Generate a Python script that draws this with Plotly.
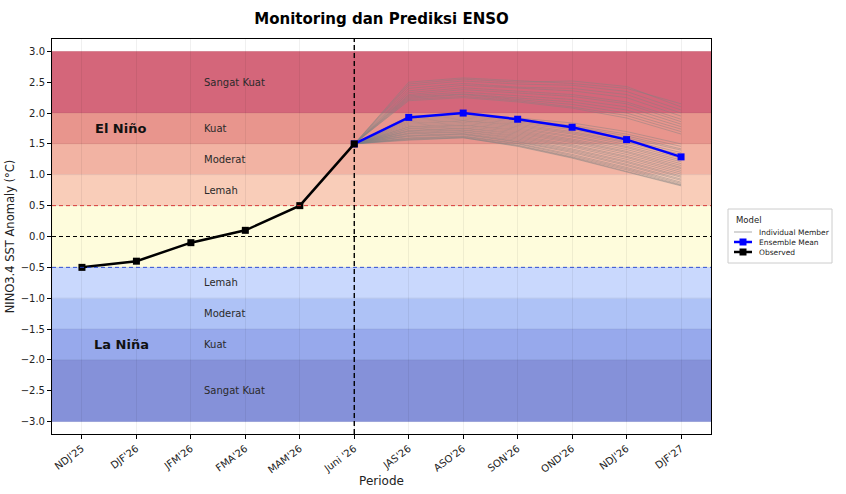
import plotly.graph_objects as go

periods = ["NDJ'25", "DJF'26", "JFM'26", "FMA'26", "MAM'26", "Juni '26",
           "JAS'26", "ASO'26", "SON'26", "OND'26", "NDJ'26", "DJF'27"]
observed = [-0.5, -0.4, -0.1, 0.1, 0.5, 1.5]
forecast_periods = periods[5:]
ensemble_mean = [1.5, 1.93, 2.0, 1.9, 1.77, 1.57, 1.29]
members = [
    [1.5, 2.50, 2.57, 2.52, 2.48, 2.40, 2.15],
    [1.5, 2.47, 2.55, 2.50, 2.52, 2.43, 2.10],
    [1.5, 2.44, 2.52, 2.47, 2.45, 2.35, 2.05],
    [1.5, 2.40, 2.48, 2.42, 2.40, 2.30, 2.00],
    [1.5, 2.36, 2.45, 2.40, 2.36, 2.25, 1.95],
    [1.5, 2.33, 2.41, 2.35, 2.30, 2.18, 1.90],
    [1.5, 2.30, 2.38, 2.32, 2.27, 2.15, 1.86],
    [1.5, 2.28, 2.34, 2.28, 2.22, 2.10, 1.82],
    [1.5, 2.26, 2.31, 2.25, 2.18, 2.05, 1.78],
    [1.5, 2.24, 2.30, 2.22, 2.14, 2.00, 1.74],
    [1.5, 2.22, 2.27, 2.20, 2.10, 1.96, 1.70],
    [1.5, 2.20, 2.25, 2.18, 2.08, 1.92, 1.66],
    [1.5, 1.95, 1.98, 1.92, 1.84, 1.70, 1.50],
    [1.5, 1.92, 1.96, 1.90, 1.80, 1.66, 1.46],
    [1.5, 1.90, 1.94, 1.88, 1.78, 1.63, 1.42],
    [1.5, 1.88, 1.92, 1.86, 1.75, 1.60, 1.40],
    [1.5, 1.86, 1.90, 1.84, 1.73, 1.57, 1.36],
    [1.5, 1.84, 1.88, 1.82, 1.70, 1.54, 1.33],
    [1.5, 1.82, 1.87, 1.80, 1.68, 1.52, 1.30],
    [1.5, 1.80, 1.85, 1.78, 1.66, 1.49, 1.27],
    [1.5, 1.78, 1.83, 1.76, 1.63, 1.46, 1.24],
    [1.5, 1.77, 1.81, 1.74, 1.61, 1.44, 1.21],
    [1.5, 1.75, 1.80, 1.72, 1.58, 1.41, 1.18],
    [1.5, 1.74, 1.78, 1.70, 1.56, 1.38, 1.15],
    [1.5, 1.72, 1.76, 1.68, 1.54, 1.36, 1.12],
    [1.5, 1.71, 1.75, 1.66, 1.52, 1.33, 1.10],
    [1.5, 1.70, 1.73, 1.64, 1.49, 1.30, 1.07],
    [1.5, 1.68, 1.72, 1.62, 1.47, 1.28, 1.04],
    [1.5, 1.67, 1.70, 1.60, 1.45, 1.25, 1.01],
    [1.5, 1.66, 1.69, 1.58, 1.42, 1.22, 0.98],
    [1.5, 1.64, 1.67, 1.56, 1.40, 1.20, 0.96],
    [1.5, 1.63, 1.66, 1.54, 1.38, 1.17, 0.93],
    [1.5, 1.62, 1.65, 1.53, 1.36, 1.15, 0.91],
    [1.5, 1.60, 1.63, 1.51, 1.33, 1.12, 0.88],
    [1.5, 1.59, 1.62, 1.50, 1.31, 1.10, 0.86],
    [1.5, 1.58, 1.61, 1.48, 1.29, 1.08, 0.84],
    [1.5, 1.57, 1.60, 1.47, 1.28, 1.06, 0.83],
    [1.5, 1.56, 1.60, 1.46, 1.27, 1.05, 0.82],
]

band_edges = [(2.0, 3.0), (1.5, 2.0), (1.0, 1.5), (0.5, 1.0), (-0.5, 0.5),
              (-1.0, -0.5), (-1.5, -1.0), (-2.0, -1.5), (-3.0, -2.0)]
band_colors = ["#d4667a", "#e8958d", "#f2b3a3", "#f9cdb9", "#fefcdc",
               "#c9d8fd", "#aec2f6", "#97a9ec", "#8591d9"]
band_labels = ["Sangat Kuat", "Kuat", "Moderat", "Lemah", None,
               "Lemah", "Moderat", "Kuat", "Sangat Kuat"]

legend_names = ["Individual Member", "Ensemble Mean", "Observed"]
legend_colors = ["rgba(128,128,128,0.55)", "#0000ff", "black"]

xi = {p: i for i, p in enumerate(periods)}
fx = [xi[p] for p in forecast_periods]
ox = [xi[p] for p in periods[:len(observed)]]

W, H = 846, 494
ML, MR, MT, MB = 52, 135, 39, 60
PW, PH = W - ML - MR, H - MT - MB


def px2paper(px, py):
    return (px - ML) / PW, (H - MB - py) / PH


fig = go.Figure()

for k, m in enumerate(members):
    fig.add_trace(go.Scatter(
        x=fx, y=m, mode="lines",
        line=dict(color="rgba(128,128,128,0.45)", width=1),
        name=legend_names[0], showlegend=False, hoverinfo="skip"))

fig.add_trace(go.Scatter(
    x=fx, y=ensemble_mean, mode="lines+markers", name=legend_names[1],
    line=dict(color="#0000ff", width=2.5), showlegend=False,
    marker=dict(symbol="square", size=7, color="#0000ff")))

fig.add_trace(go.Scatter(
    x=ox, y=observed, mode="lines+markers", name=legend_names[2],
    line=dict(color="black", width=2.5), showlegend=False,
    marker=dict(symbol="square", size=7, color="black")))

shapes = []
for (lo, hi), c in zip(band_edges, band_colors):
    shapes.append(dict(type="rect", xref="paper", yref="y", x0=0, x1=1,
                       y0=lo, y1=hi, fillcolor=c, layer="below",
                       line=dict(width=0.6, color="rgba(0,0,0,0.08)")))
for yv, col in [(0.5, "#d62728"), (0.0, "black"), (-0.5, "#1f3fd0")]:
    shapes.append(dict(type="line", xref="paper", yref="y", x0=0, x1=1,
                       y0=yv, y1=yv, layer="above",
                       line=dict(color=col, width=1 if yv == 0 else 0.9, dash="4px,3px")))
shapes.append(dict(type="line", xref="x", yref="paper", x0=5, x1=5, y0=0, y1=1,
                   layer="above", line=dict(color="black", width=1.4, dash="5px,3px")))

annotations = []
for (lo, hi), lab in zip(band_edges, band_labels):
    if lab is None:
        continue
    annotations.append(dict(x=2.2, y=(lo + hi) / 2, xref="x", yref="y", text=lab,
                            showarrow=False, xanchor="left", yanchor="middle",
                            font=dict(family="DejaVu Sans", size=10, color="#2a2a2a")))
annotations.append(dict(x=0.7, y=1.75, xref="x", yref="y", text="<b>El Niño</b>",
                        showarrow=False, xanchor="center", yanchor="middle",
                        font=dict(family="DejaVu Sans", size=13, color="#111")))
annotations.append(dict(x=0.73, y=-1.75, xref="x", yref="y", text="<b>La Niña</b>",
                        showarrow=False, xanchor="center", yanchor="middle",
                        font=dict(family="DejaVu Sans", size=13, color="#111")))

# legend drawn in paper space
bx0, by0 = px2paper(728, 263)
bx1, by1 = px2paper(832, 209)
shapes.append(dict(type="rect", xref="paper", yref="paper", x0=bx0, x1=bx1, y0=by0, y1=by1,
                   fillcolor="white", line=dict(color="#cccccc", width=1), layer="above"))
tx, ty = px2paper(734, 220)
annotations.append(dict(x=tx, y=ty, xref="paper", yref="paper", text="Model", showarrow=False,
                        xanchor="left", yanchor="middle",
                        font=dict(family="DejaVu Sans", size=8.5, color="#222")))
for i, (nm, col) in enumerate(zip(legend_names, legend_colors)):
    rowy = 232 + 10 * i
    lx0, ly = px2paper(734, rowy)
    lx1, _ = px2paper(752, rowy)
    shapes.append(dict(type="line", xref="paper", yref="paper", x0=lx0, x1=lx1, y0=ly, y1=ly,
                       line=dict(color=col, width=1.2 if i == 0 else 2.5), layer="above"))
    if i > 0:
        mx0, my0 = px2paper(739.5, rowy + 3.5)
        mx1, my1 = px2paper(746.5, rowy - 3.5)
        shapes.append(dict(type="rect", xref="paper", yref="paper", x0=mx0, x1=mx1,
                           y0=my0, y1=my1, fillcolor=col, line=dict(width=0), layer="above"))
    ax, ay = px2paper(757, rowy)
    annotations.append(dict(x=ax, y=ay, xref="paper", yref="paper", text=nm, showarrow=False,
                            xanchor="left", yanchor="middle",
                            font=dict(family="DejaVu Sans", size=7.5, color="#222")))

fig.update_layout(
    width=W, height=H,
    margin=dict(l=ML, r=MR, t=MT, b=MB, autoexpand=False),
    paper_bgcolor="white", plot_bgcolor="white",
    font=dict(family="DejaVu Sans", size=10, color="#222"),
    title=dict(text="<b>Monitoring dan Prediksi ENSO</b>", x=0.5, xref="paper",
               xanchor="center", y=0.962, yanchor="middle",
               font=dict(family="DejaVu Sans", size=15, color="black")),
    shapes=shapes, annotations=annotations,
    showlegend=False,
)
fig.update_xaxes(range=[-0.55, 11.55], tickmode="array",
                 tickvals=list(range(len(periods))), ticktext=periods,
                 tickangle=-37, ticks="outside", ticklen=4, tickcolor="black",
                 showline=True, mirror=True, linecolor="black", linewidth=1,
                 showgrid=True, gridcolor="rgba(0,0,0,0.06)", zeroline=False,
                 automargin=False,
                 title=dict(text="Periode", font=dict(size=12), standoff=2),
                 tickfont=dict(size=10))
fig.update_yaxes(range=[-3.2, 3.2], tickmode="array",
                 tickvals=[-3 + 0.5 * i for i in range(13)], tickformat=".1f",
                 ticks="outside", ticklen=4, tickcolor="black",
                 showline=True, mirror=True, linecolor="black", linewidth=1,
                 showgrid=False, zeroline=False, automargin=False,
                 title=dict(text="NINO3.4 SST Anomaly (°C)", font=dict(size=11.5), standoff=3),
                 tickfont=dict(size=10))

fig.write_html("out.html")
